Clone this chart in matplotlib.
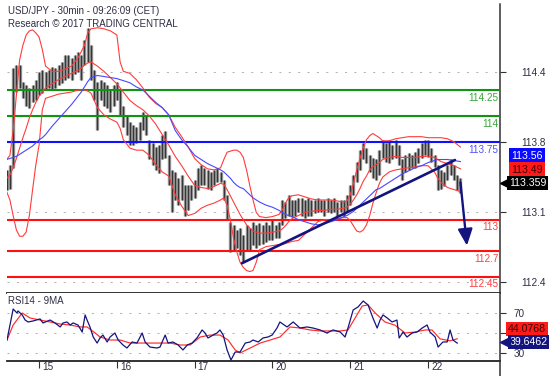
import numpy as np
import matplotlib
matplotlib.use("Agg")
import matplotlib.pyplot as plt
from matplotlib.lines import Line2D
from matplotlib.transforms import offset_copy

plt.rcParams['font.family'] = ['Liberation Sans', 'DejaVu Sans']

# time axis: trading hours counted from the start of the 15th (weekend skipped)
day_hours = [0, 24, 48, 72, 96, 120]
day_labels = ["15", "16", "17", "20", "21", "22"]

# hourly price ranges (USD/JPY), from -10h to +130h
bar_hours = np.arange(-10, 131)
bar_high = [
    113.48, 113.53, 114.46, 114.49, 114.49, 114.33, 114.30, 114.27, 114.30, 114.35,
    114.42, 114.44, 114.42, 114.44, 114.47, 114.46, 114.49, 114.52, 114.59, 114.59,
    114.56, 114.59, 114.62, 114.59, 114.73, 114.85, 114.68, 114.44, 114.33, 114.35,
    114.33, 114.30, 114.25, 114.30, 114.33, 114.25, 114.10, 114.01, 113.94, 113.91,
    113.89, 113.94, 114.04, 114.01, 113.77, 113.74, 113.70, 113.72, 113.82, 113.85,
    113.62, 113.48, 113.46, 113.40, 113.43, 113.33, 113.33, 113.33, 113.38, 113.50,
    113.53, 113.50, 113.48, 113.46, 113.48, 113.50, 113.46, 113.38, 113.24, 112.98,
    112.95, 112.90, 112.92, 112.85, 112.95, 112.92, 112.98, 112.95, 112.97, 112.95,
    112.98, 112.95, 113.00, 112.95, 112.98, 113.19, 113.17, 113.24, 113.19, 113.19,
    113.21, 113.21, 113.19, 113.21, 113.19, 113.19, 113.21, 113.19, 113.19, 113.21,
    113.19, 113.21, 113.17, 113.19, 113.19, 113.24, 113.33, 113.43, 113.56, 113.67,
    113.74, 113.69, 113.62, 113.59, 113.58, 113.67, 113.77, 113.74, 113.77, 113.72,
    113.77, 113.72, 113.58, 113.62, 113.64, 113.62, 113.65, 113.69, 113.74, 113.77,
    113.77, 113.69, 113.62, 113.53, 113.48, 113.46, 113.53, 113.58, 113.53, 113.43,
    113.40]
bar_low = [
    113.29, 113.30, 113.50, 114.23, 114.27, 114.17, 114.10, 114.08, 114.13, 114.15,
    114.20, 114.22, 114.25, 114.27, 114.25, 114.27, 114.30, 114.32, 114.35, 114.37,
    114.35, 114.40, 114.42, 114.35, 114.49, 114.52, 114.35, 114.15, 113.86, 114.15,
    114.10, 114.08, 114.04, 114.10, 114.15, 114.01, 113.89, 113.82, 113.72, 113.72,
    113.74, 113.77, 113.86, 113.82, 113.58, 113.53, 113.48, 113.45, 113.58, 113.59,
    113.33, 113.07, 113.19, 113.14, 113.19, 113.04, 113.09, 113.19, 113.21, 113.29,
    113.33, 113.33, 113.30, 113.29, 113.33, 113.36, 113.36, 113.19, 113.00, 112.69,
    112.71, 112.73, 112.66, 112.59, 112.71, 112.71, 112.76, 112.73, 112.76, 112.77,
    112.78, 112.80, 112.80, 112.82, 112.82, 112.95, 113.02, 113.04, 113.03, 113.04,
    113.07, 113.04, 113.02, 113.04, 113.04, 113.06, 113.07, 113.07, 113.04, 113.07,
    113.06, 113.07, 113.04, 113.07, 113.04, 113.07, 113.14, 113.24, 113.36, 113.48,
    113.58, 113.55, 113.46, 113.40, 113.38, 113.43, 113.59, 113.56, 113.55, 113.58,
    113.59, 113.53, 113.38, 113.46, 113.48, 113.50, 113.50, 113.55, 113.59, 113.62,
    113.60, 113.56, 113.51, 113.29, 113.30, 113.32, 113.38, 113.43, 113.38, 113.29,
    113.26]
last_price = 113.359

# Bollinger bands and moving average
band_hours = [-10, -9, -8, -7, -6, -5, -4, -3, -2, -1, 0, 1, 2,
              4, 6, 8, 10, 12, 13, 14, 15, 16, 18, 20, 22, 24, 25, 26,
              28, 30, 32, 34, 36, 38, 40, 42, 44, 46, 48, 50, 52, 54, 56,
              57, 58, 59, 60, 61, 62, 63, 64, 65, 66, 67, 68, 70, 72, 74,
              75, 76, 77, 78, 80, 82, 84, 86, 88, 90, 92, 94,
              95, 96, 97, 98, 99, 100, 101, 102, 103, 104, 105, 106,
              108, 110, 112, 114, 116, 118, 120, 122, 123, 124, 126, 128, 130]
band_upper = [
    113.58, 113.62, 113.86, 114.20, 114.54, 114.68, 114.78, 114.82, 114.83, 114.80, 114.76, 114.64, 114.48,
    114.43, 114.43, 114.45, 114.48, 114.56, 114.62, 114.68, 114.80, 114.84, 114.85, 114.84, 114.82, 114.78, 114.52, 114.43,
    114.41, 114.35, 114.27, 114.18, 114.12, 114.08, 114.01, 113.89, 113.80, 113.70, 113.59, 113.53, 113.49, 113.48, 113.50,
    113.58, 113.65, 113.66, 113.67, 113.67, 113.65, 113.60, 113.48, 113.33, 113.19, 113.07, 113.03, 113.02, 113.03, 113.05,
    113.09, 113.16, 113.21, 113.23, 113.24, 113.22, 113.20, 113.19, 113.19, 113.19, 113.18, 113.17,
    113.18, 113.24, 113.35, 113.48, 113.59, 113.69, 113.77, 113.81, 113.83, 113.81, 113.79, 113.76,
    113.76, 113.78, 113.79, 113.80, 113.80, 113.80, 113.79, 113.79, 113.79, 113.79, 113.78, 113.75, 113.70]
band_mid = [
    113.40, 113.43, 113.50, 113.59, 113.69, 113.79, 113.88, 113.98, 114.06, 114.13, 114.19, 114.23, 114.27,
    114.31, 114.35, 114.38, 114.41, 114.44, 114.46, 114.49, 114.51, 114.52, 114.48, 114.43, 114.37, 114.31, 114.27, 114.23,
    114.15, 114.10, 114.06, 114.00, 113.92, 113.82, 113.72, 113.61, 113.52, 113.42, 113.33, 113.31, 113.30, 113.32, 113.35,
    113.34, 113.29, 113.23, 113.17, 113.11, 113.05, 113.00, 112.95, 112.92, 112.89, 112.88, 112.87, 112.87, 112.88, 112.89,
    112.91, 112.94, 112.98, 113.01, 113.04, 113.07, 113.08, 113.09, 113.09, 113.10, 113.10, 113.11,
    113.12, 113.15, 113.19, 113.24, 113.30, 113.37, 113.42, 113.48, 113.51, 113.53, 113.55, 113.58,
    113.60, 113.61, 113.60, 113.60, 113.60, 113.61, 113.61, 113.60, 113.58, 113.56, 113.54, 113.52, 113.49]
band_lower = [
    113.27, 113.19, 113.04, 112.90, 112.84, 112.84, 112.88, 113.04, 113.29, 113.53, 113.72, 114.06, 114.17,
    114.19, 114.21, 114.22, 114.23, 114.25, 114.25, 114.25, 114.24, 114.22, 114.08, 114.01, 113.97, 113.94, 113.88, 113.77,
    113.69, 113.67, 113.67, 113.62, 113.53, 113.46, 113.42, 113.24, 113.13, 113.04, 113.06, 113.11, 113.14, 113.16, 113.19,
    113.21, 113.14, 113.00, 112.82, 112.69, 112.59, 112.54, 112.51, 112.50, 112.51, 112.59, 112.71, 112.74, 112.75, 112.76,
    112.76, 112.77, 112.78, 112.79, 112.80, 112.86, 112.92, 112.98, 113.00, 113.00, 113.01, 113.02,
    113.02, 112.99, 112.94, 112.89, 112.88, 112.90, 112.95, 113.04, 113.16, 113.26, 113.35, 113.41,
    113.46, 113.48, 113.49, 113.50, 113.51, 113.52, 113.52, 113.46, 113.40, 113.36, 113.31, 113.29, 113.27]
ma_blue = [
    113.58, 113.59, 113.60, 113.61, 113.63, 113.65, 113.67, 113.69, 113.71, 113.74, 113.77, 113.79, 113.82,
    113.90, 113.97, 114.04, 114.11, 114.19, 114.23, 114.28, 114.33, 114.37, 114.39, 114.38, 114.37, 114.36, 114.35, 114.34,
    114.32, 114.28, 114.25, 114.19, 114.13, 114.08, 114.01, 113.86, 113.77, 113.70, 113.62, 113.58, 113.54, 113.51, 113.48,
    113.46, 113.43, 113.40, 113.36, 113.33, 113.31, 113.30, 113.27, 113.24, 113.21, 113.19, 113.17, 113.14, 113.12, 113.09,
    113.07, 113.05, 113.04, 113.03, 113.00, 112.98, 112.96, 112.95, 112.96, 112.98, 113.00, 113.03,
    113.04, 113.06, 113.08, 113.11, 113.14, 113.17, 113.20, 113.23, 113.26, 113.29, 113.30, 113.32,
    113.36, 113.40, 113.44, 113.47, 113.50, 113.52, 113.55, 113.57, 113.58, 113.58, 113.58, 113.57, 113.56]

# horizontal levels
green_levels = [114.25, 114.0]
blue_levels = [113.75]
red_levels = [113.0, 112.7, 112.45]

# support trend line and projected path
trend_hours = [62.6, 128.3]
trend_prices = [112.58, 113.575]
arrow_hours = [130.0, 132.0]
arrow_prices = [113.36, 112.75]

price_ticks = [112.4, 113.075, 113.75, 114.425]
price_tick_labels = ["112.4", "113.1", "113.8", "114.4"]

# RSI14 and its 9-period average
rsi_hours = [-9.9, -8.0, -6.8, -6.5, -5.2, -4.3, -3.4, -1.9, 0.3, 1.2, 3.4, 4.9, 6.5, 7.4, 8.6,
             9.6, 10.5, 12.0, 13.3, 14.2, 14.8, 15.7, 16.7, 17.9, 18.8, 19.7, 21.0, 21.9, 23.4,
             24.4, 25.9, 27.1, 28.7, 30.2, 31.8, 32.7, 34.2, 36.4, 37.3, 38.9, 39.8, 41.3, 42.9,
             44.4, 45.7, 47.2, 48.7, 50.3, 51.2, 52.1, 53.7, 54.9, 55.8, 56.8, 58.0, 59.2, 60.5,
             62.0, 63.6, 65.1, 66.0, 67.6, 69.1, 70.6, 71.9, 73.4, 74.3, 76.5, 78.4, 80.5, 82.7,
             84.5, 86.7, 88.8, 90.7, 92.9, 94.4, 95.3, 96.9, 98.4, 100.0, 101.5, 103.0, 104.3,
             105.2, 106.1, 107.4, 108.9, 110.4, 111.1, 112.3, 113.5, 115.1, 116.6, 118.2, 119.7,
             120.6, 122.2, 123.1, 124.6, 125.9, 126.8, 127.7, 129.0]
rsi_values = [42.8, 74.6, 70.5, 72.6, 68.5, 63.3, 61.3, 62.3, 64.4, 60.3, 63.3, 60.3, 56.2, 60.3, 61.3,
              58.2, 60.3, 58.2, 51.0, 68.5, 63.3, 56.2, 45.9, 39.7, 44.9, 47.9, 40.8, 45.9, 50.0,
              42.8, 37.7, 34.6, 40.8, 39.7, 50.0, 40.8, 35.6, 34.6, 35.6, 47.9, 39.7, 40.8, 37.7,
              32.6, 37.7, 39.7, 44.9, 53.1, 50.0, 44.9, 47.9, 50.0, 53.1, 47.9, 32.6, 22.3, 30.5,
              30.5, 39.7, 40.8, 42.8, 40.8, 44.9, 45.9, 47.9, 55.1, 61.3, 56.2, 61.3, 55.1, 56.2,
              55.1, 53.1, 50.0, 53.1, 51.0, 45.9, 55.1, 73.6, 76.7, 82.8, 78.7, 65.4, 55.1,
              63.3, 68.5, 65.4, 61.3, 63.3, 44.9, 51.0, 45.9, 50.0, 51.0, 55.1, 58.2,
              51.0, 45.9, 35.6, 40.8, 40.8, 53.1, 42.8, 39.6462]
rsi_ma_hours = [-9.9, -8.0, -5.2, -2.8, 0.3, 3.4, 6.5, 9.6, 12.6, 14.8, 17.3, 18.8, 21.9, 25.0,
                28.1, 31.2, 34.2, 37.3, 40.4, 43.5, 46.6, 49.7, 52.8, 55.8, 58.3, 60.5, 62.0,
                65.1, 68.2, 71.3, 74.3, 77.4, 80.5, 83.6, 86.7, 89.8, 92.9, 95.3, 97.5, 99.7,
                101.5, 103.7, 106.7, 109.8, 112.9, 116.0, 119.1, 121.2, 123.7, 126.8, 129.0]
rsi_ma_values = [42.8, 58.2, 70.5, 65.4, 63.3, 61.3, 59.2, 58.2, 56.2, 56.2, 50.0, 45.9, 42.8, 42.8,
                 39.7, 39.7, 39.7, 39.7, 39.7, 37.7, 37.7, 45.9, 47.9, 47.9, 42.8, 32.6, 29.5,
                 34.6, 39.7, 42.8, 45.9, 56.2, 55.1, 53.1, 52.1, 52.1, 52.1, 53.1, 65.4, 77.7,
                 78.7, 70.5, 61.3, 58.0, 50.0, 51.0, 53.1, 53.1, 44.0, 42.0, 44.0768]
rsi_ticks = [30, 50, 70]
rsi_tick_labels = ["30", "", "70"]   # the 50 label sits under the value boxes

TXT = '#2e2e44'
NAVY = '#14147e'

W, H = 557, 376
fig = plt.figure(figsize=(W / 100, H / 100), dpi=100)
ax = fig.add_axes([7 / W, 1 - 293 / H, 493 / W, 289 / H])
ax_rsi = fig.add_axes([7 / W, 1 - 361 / H, 493 / W, 68 / H])

for a in (ax, ax_rsi):
    a.set_xlim(-9.9, 142.2)
    a.spines['left'].set_visible(False)
    a.spines['top'].set_visible(False)
    a.spines['right'].set_color('#333333')
    a.spines['right'].set_linewidth(1.1)
    a.spines['bottom'].set_color('#222222')
    a.spines['bottom'].set_linewidth(1.3)
    a.yaxis.tick_right()
    a.yaxis.grid(True, linestyle=(0, (2, 7)), color='#b5b5b5', lw=0.75)
    a.set_axisbelow(True)

# ---- price panel ----
ax.set_ylim(112.293, 115.079)
ax.set_yticks(price_ticks)
ax.set_yticklabels(price_tick_labels)
ax.tick_params(axis='y', direction='out', length=4, width=0.8, colors='#333333',
               labelcolor=TXT, labelsize=7.2, pad=11.5)
ax.tick_params(axis='x', bottom=False, labelbottom=False)

ax.vlines(bar_hours, bar_low, bar_high, color='#8c8c8c', lw=2.4, zorder=2)
ax.vlines(bar_hours, bar_low, bar_high, color='#111111', lw=0.5, zorder=2.1)

level_sets = [(green_levels, '#0e960e', '#3aa83a'),
              (blue_levels, '#1010ff', '#5050ff'),
              (red_levels, '#ff1010', '#ff4040')]
for levels, lc, tc in level_sets:
    for lv in levels:
        ax.axhline(lv, color=lc, lw=1.5, zorder=3)
        ax.annotate(f'{lv:g}', xy=(1, lv), xycoords=ax.get_yaxis_transform(),
                    xytext=(-1, -2), textcoords='offset points', ha='right', va='top',
                    color=tc, fontsize=7.2, zorder=7)

ax.plot(band_hours, band_upper, color='#ff3c3c', lw=0.8, zorder=4)
ax.plot(band_hours, band_mid, color='#ff3c3c', lw=0.8, zorder=4)
ax.plot(band_hours, band_lower, color='#ff3c3c', lw=0.8, zorder=4)
ax.plot(band_hours, ma_blue, color='#4848ff', lw=0.8, zorder=4)

ax.plot(trend_hours, trend_prices, color=NAVY, lw=1.9, zorder=6, solid_capstyle='round')
ax.annotate('', xy=(arrow_hours[1], arrow_prices[1]), xytext=(arrow_hours[0], arrow_prices[0]),
            arrowprops=dict(arrowstyle='-|>,head_length=0.9,head_width=0.4', color=NAVY,
                            lw=1.7, shrinkA=0, shrinkB=0, mutation_scale=11), zorder=6)

ax.annotate('USD/JPY - 30min - 09:26:09 (CET)', xy=(0, 1), xycoords='axes fraction',
            xytext=(0.5, -1.5), textcoords='offset points', va='top', ha='left',
            fontsize=7, color=TXT)
ax.annotate('Research \u00a9 2017 TRADING CENTRAL', xy=(0, 1), xycoords='axes fraction',
            xytext=(0.5, -10.8), textcoords='offset points', va='top', ha='left',
            fontsize=7, color=TXT)

ytr = ax.get_yaxis_transform()
box_kw = dict(xycoords=ytr, textcoords='offset points', ha='center', va='center',
              fontsize=7.6, annotation_clip=False, zorder=8)
ax.annotate(f'{ma_blue[-1]:.2f}', xy=(1, ma_blue[-1]), xytext=(19.5, 4.0), color='white',
            bbox=dict(boxstyle='square,pad=0.25', fc='#0a0aff', ec='none'), **box_kw)
ax.annotate(f'{band_mid[-1]:.2f}', xy=(1, band_mid[-1]), xytext=(19.5, -0.9), color='#3a0000',
            bbox=dict(boxstyle='square,pad=0.25', fc='#ff1a1a', ec='none'), **box_kw)
ax.annotate(f'{last_price:.3f}', xy=(1, last_price), xytext=(20.0, -0.3), color='white',
            bbox=dict(boxstyle='square,pad=0.18', fc='black', ec='none'), **box_kw)
ax.plot([1], [last_price], marker='<', ms=7.5, color='black', clip_on=False, zorder=8,
        transform=offset_copy(ytr, fig=fig, x=4.5, y=-0.4, units='dots'))

# ---- RSI panel ----
ax_rsi.set_ylim(21.3, 91.0)
ax_rsi.set_yticks(rsi_ticks)
ax_rsi.set_yticklabels(rsi_tick_labels)
ax_rsi.tick_params(axis='y', direction='out', length=4, width=0.8, colors='#333333',
                   labelcolor=TXT, labelsize=7.2, pad=6)
ax_rsi.set_xticks(day_hours)
ax_rsi.tick_params(axis='x', direction='out', length=5, width=0.8, colors='#333333',
                   labelbottom=False)
for h, lbl in zip(day_hours, day_labels):
    ax_rsi.annotate(lbl, xy=(h, 0), xycoords=ax_rsi.get_xaxis_transform(),
                    xytext=(2.2, -4.6), textcoords='offset points', ha='left', va='center',
                    fontsize=7.2, color=TXT, annotation_clip=False)

ax_rsi.plot(rsi_ma_hours, rsi_ma_values, color='#ff2a2a', lw=0.85, zorder=3)
ax_rsi.plot(rsi_hours, rsi_values, color=NAVY, lw=0.9, zorder=4)
ax_rsi.annotate('RSI14 - 9MA', xy=(0, 1), xycoords='axes fraction', xytext=(0.5, -2.5),
                textcoords='offset points', va='top', ha='left', fontsize=7, color=TXT)

rtr = ax_rsi.get_yaxis_transform()
rbox_kw = dict(xycoords=rtr, textcoords='offset points', ha='center', va='center',
               fontsize=7.6, annotation_clip=False, zorder=8)
ax_rsi.annotate(f'{rsi_ma_values[-1]:.4f}', xy=(1, rsi_ma_values[-1]), xytext=(19.5, 7.0),
                color='#3a0000', bbox=dict(boxstyle='square,pad=0.18', fc='#ff1a1a', ec='none'),
                **rbox_kw)
ax_rsi.annotate(f'{rsi_values[-1]:.4f}', xy=(1, rsi_values[-1]), xytext=(20.5, 0.8),
                color='white', bbox=dict(boxstyle='square,pad=0.18', fc=NAVY, ec='none'),
                **rbox_kw)
ax_rsi.plot([1], [rsi_values[-1]], marker='<', ms=7.5, color=NAVY, clip_on=False, zorder=8,
            transform=offset_copy(rtr, fig=fig, x=4.5, y=1.1, units='dots'))

# right frame line continues below the RSI panel
pos = ax_rsi.get_position()
fig.add_artist(Line2D([pos.x1, pos.x1], [0, pos.y0], transform=fig.transFigure,
                      color='#333333', lw=1.1))

fig.savefig('out.png', dpi=100)
